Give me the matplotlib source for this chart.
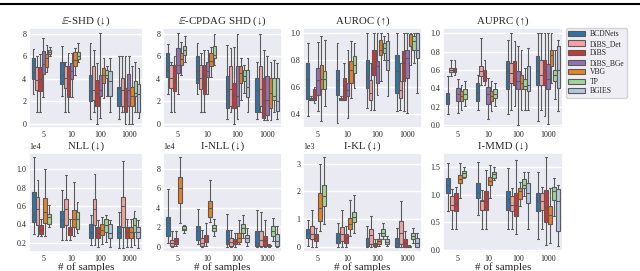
import matplotlib
matplotlib.use("Agg")
import matplotlib.pyplot as plt
import seaborn as sns
from matplotlib.patches import Patch
from matplotlib.lines import Line2D

sns.set_theme(style="darkgrid")
plt.rcParams["font.family"] = ["Liberation Serif", "DejaVu Serif"]
plt.rcParams["mathtext.fontset"] = "stix"

SAMPLES = ["5", "10", "100", "1000"]
METHODS = ["BCDNets", "DiBS_Det", "DiBS", "DiBS_BGe", "VBG", "TP", "BGIES"]
BASE_COLORS = ["#1f77b4", "#ff9896", "#d62728", "#9467bd", "#ff7f0e", "#98df8a", "#aec7e8"]

# each entry: (whisker low, q1, median, q3, whisker high) per sample size
ESHD = {
    "BCDNets": [(2.6, 4.0, 4.55, 5.8, 6.6), (2.45, 3.5, 4.35, 5.5, 6.9), (0.45, 2.0, 3.0, 4.35, 7.2), (0.4, 1.55, 3.2, 3.3, 6.0)],
    "DiBS_Det": [(1.0, 3.0, 3.9, 5.05, 6.0), (1.0, 3.2, 4.05, 5.1, 5.5), (1.0, 2.15, 3.0, 5.1, 6.55), (1.0, 1.55, 3.0, 4.1, 6.0)],
    "DiBS": [(1.0, 2.9, 4.0, 5.0, 6.2), (1.0, 2.35, 3.5, 5.1, 6.3), (0.0, 1.6, 2.75, 3.9, 5.4), (0.0, 1.0, 2.15, 3.2, 6.0)],
    "DiBS_BGe": [(2.35, 4.4, 5.3, 6.5, 7.6), (2.4, 4.0, 4.65, 5.4, 6.3), (0.5, 2.45, 3.0, 4.35, 8.1), (0.0, 1.55, 3.0, 4.45, 6.0)],
    "VBG": [(4.6, 5.0, 5.8, 6.2, 7.0), (4.35, 5.15, 5.7, 6.4, 6.7), (2.3, 3.6, 4.35, 4.95, 5.8), (0.0, 1.55, 2.45, 3.3, 5.1)],
    "TP": [(6.0, 6.2, 6.35, 6.55, 6.8), (5.5, 5.75, 6.05, 6.4, 7.2), (2.45, 4.05, 4.35, 4.8, 5.1), (1.0, 2.45, 2.75, 3.75, 5.5)],
    "BGIES": [None, None, (1.0, 2.45, 3.75, 4.65, 5.8), (0.5, 1.0, 2.6, 3.5, 4.95)],
}
ECPDAG = {
    "BCDNets": [(2.6, 4.15, 4.8, 6.25, 7.05), (2.6, 3.6, 4.65, 6.0, 7.2), (0.45, 1.4, 2.9, 4.25, 7.0), (0.45, 1.0, 3.0, 4.05, 5.5)],
    "DiBS_Det": [(1.0, 3.2, 4.05, 5.25, 5.5), (1.0, 3.1, 4.05, 5.25, 6.25), (1.0, 1.55, 3.1, 5.1, 6.75), (1.0, 1.55, 3.1, 5.1, 8.0)],
    "DiBS": [(1.0, 2.9, 3.8, 5.25, 6.0), (1.0, 2.6, 3.55, 5.25, 6.55), (0.0, 1.4, 2.6, 3.6, 6.85), (0.3, 0.5, 2.15, 4.05, 6.55)],
    "DiBS_BGe": [(2.6, 4.5, 5.25, 6.75, 8.1), (2.6, 4.15, 4.65, 5.5, 6.55), (0.45, 1.55, 2.45, 5.1, 8.0), (0.3, 0.8, 2.15, 4.25, 6.0)],
    "VBG": [(4.35, 5.25, 5.75, 6.3, 7.3), (4.15, 5.1, 5.6, 6.25, 6.85), (2.15, 3.6, 4.5, 5.1, 5.8), (0.3, 1.4, 2.75, 4.05, 5.5)],
    "TP": [(5.5, 6.1, 6.55, 6.9, 7.75), (5.25, 5.8, 6.1, 6.9, 8.0), (2.75, 3.75, 4.25, 4.8, 5.25), (1.0, 2.15, 2.45, 4.05, 5.65)],
    "BGIES": [None, None, (1.0, 2.35, 3.25, 4.8, 5.8), (0.45, 1.1, 2.0, 4.05, 5.4)],
}
AUROC = {
    "BCDNets": [(0.388, 0.511, 0.662, 0.778, 0.926), (0.333, 0.543, 0.654, 0.728, 0.926), (0.444, 0.59, 0.674, 0.8, 1.0), (0.42, 0.556, 0.716, 0.84, 1.0)],
    "DiBS_Det": [(0.5, 0.505, 0.51, 0.515, 0.53), (0.5, 0.505, 0.51, 0.515, 0.53), (0.43, 0.506, 0.555, 0.654, 0.778), (0.43, 0.52, 0.58, 0.642, 0.778)],
    "DiBS": [(0.48, 0.506, 0.52, 0.585, 0.6), (0.506, 0.506, 0.575, 0.667, 0.778), (0.43, 0.69, 0.74, 0.877, 1.0), (0.42, 0.642, 0.778, 0.864, 1.0)],
    "DiBS_BGe": [(0.42, 0.543, 0.654, 0.74, 0.93), (0.37, 0.53, 0.58, 0.63, 0.877), (0.543, 0.63, 0.753, 0.79, 1.0), (0.407, 0.667, 0.815, 0.877, 1.0)],
    "VBG": [(0.345, 0.585, 0.66, 0.765, 0.975), (0.52, 0.63, 0.723, 0.79, 0.94), (0.642, 0.84, 0.872, 0.95, 1.0), (0.765, 0.9, 0.9, 0.99, 1.0)],
    "TP": [(0.457, 0.585, 0.662, 0.716, 0.95), (0.59, 0.703, 0.765, 0.832, 0.926), (0.8, 0.852, 0.889, 0.926, 0.975), (0.778, 0.877, 0.938, 0.975, 1.0)],
    "BGIES": [None, None, (0.53, 0.728, 0.8, 0.938, 1.0), (0.556, 0.815, 0.877, 1.0, 1.0)],
}
AUPRC = {
    "BCDNets": [(0.12, 0.227, 0.3, 0.35, 0.53), (0.17, 0.26, 0.35, 0.46, 0.55), (0.12, 0.39, 0.586, 0.694, 0.93), (0.047, 0.44, 0.586, 0.75, 1.0)],
    "DiBS_Det": [(0.53, 0.575, 0.6, 0.622, 0.71), (0.44, 0.53, 0.586, 0.64, 0.946), (0.17, 0.46, 0.57, 0.676, 1.0), (0.17, 0.44, 0.55, 0.71, 1.0)],
    "DiBS": [(0.55, 0.575, 0.6, 0.622, 0.71), (0.44, 0.478, 0.55, 0.6, 0.71), (0.21, 0.44, 0.586, 0.694, 0.91), (0.1, 0.44, 0.6, 0.71, 1.0)],
    "DiBS_BGe": [(0.137, 0.26, 0.335, 0.4, 0.5), (0.065, 0.227, 0.335, 0.42, 0.51), (0.0, 0.39, 0.478, 0.586, 0.856), (0.01, 0.39, 0.5, 0.66, 1.0)],
    "VBG": [(0.17, 0.26, 0.317, 0.37, 0.44), (0.155, 0.26, 0.317, 0.37, 0.48), (0.17, 0.39, 0.46, 0.55, 0.82), (0.46, 0.64, 0.766, 0.82, 1.0)],
    "TP": [(0.21, 0.28, 0.335, 0.39, 0.48), (0.21, 0.3, 0.34, 0.39, 0.46), (0.17, 0.39, 0.43, 0.5, 0.62), (0.28, 0.478, 0.55, 0.6, 0.82)],
    "BGIES": [None, None, (0.17, 0.37, 0.44, 0.64, 0.84), (0.155, 0.406, 0.6, 0.856, 0.93)],
}
NLL = {  # x 1e4
    "BCDNets": [(0.298, 0.425, 0.516, 0.753, 1.135), (0.225, 0.37, 0.45, 0.54, 0.778), (0.17, 0.255, 0.316, 0.4, 0.5), (0.145, 0.255, 0.316, 0.38, 0.535)],
    "DiBS_Det": [(0.27, 0.39, 0.571, 0.698, 0.887), (0.225, 0.39, 0.571, 0.68, 0.935), (0.17, 0.39, 0.571, 0.68, 0.953), (0.145, 0.37, 0.596, 0.698, 1.09)],
    "DiBS": [(0.27, 0.29, 0.342, 0.39, 0.46), (0.225, 0.28, 0.335, 0.37, 0.46), (0.153, 0.255, 0.305, 0.37, 0.444), (0.153, 0.255, 0.316, 0.37, 0.46)],
    "VBG": [(0.27, 0.415, 0.535, 0.69, 1.007), (0.27, 0.37, 0.462, 0.56, 0.862), (0.19, 0.28, 0.335, 0.4, 0.48), (0.153, 0.255, 0.316, 0.37, 0.46)],
    "TP": [(0.37, 0.407, 0.48, 0.516, 0.607), (0.3, 0.353, 0.462, 0.535, 0.644), (0.207, 0.316, 0.39, 0.46, 0.5), (0.17, 0.316, 0.39, 0.47, 0.545)],
    "BGIES": [None, None, (0.153, 0.255, 0.305, 0.407, 0.444), (0.145, 0.255, 0.316, 0.37, 0.444)],
}
INLL = {  # x 1e4
    "BCDNets": [(0.44, 1.18, 2.45, 3.06, 5.9), (0.27, 0.77, 1.61, 2.18, 3.9), (0.0, 0.27, 0.77, 1.78, 3.4), (0.0, 0.1, 0.44, 1.61, 3.8)],
    "DiBS_Det": [(0.0, 0.1, 0.44, 0.77, 1.6), (0.0, 0.1, 0.44, 0.94, 1.78), (0.0, 0.1, 0.5, 0.94, 1.78), (0.0, 0.1, 0.77, 1.61, 3.63)],
    "DiBS": [(0.1, 0.27, 0.67, 0.94, 1.6), (0.1, 0.5, 0.94, 1.28, 2.45), (0.0, 0.27, 0.6, 0.84, 1.45), (0.0, 0.1, 0.77, 1.11, 2.79)],
    "VBG": [(2.45, 4.47, 5.98, 7.16, 9.18), (2.52, 3.06, 3.97, 4.74, 6.82), (0.27, 0.54, 0.94, 1.45, 2.72), (0.0, 0.07, 0.13, 0.2, 0.27)],
    "TP": [(1.45, 1.71, 1.88, 2.12, 2.29), (1.18, 1.61, 1.95, 2.29, 2.86), (0.94, 1.45, 1.95, 2.35, 3.3), (0.6, 1.11, 1.61, 2.12, 2.96)],
    "BGIES": [None, None, (0.1, 0.5, 0.94, 1.28, 1.95), (0.0, 0.1, 0.6, 1.38, 2.12)],
}
IKL = {  # x 1e3
    "BCDNets": [(0.04, 0.33, 0.51, 0.63, 0.98), (0.0, 0.15, 0.37, 0.51, 0.87), (0.0, 0.04, 0.15, 0.33, 0.75), (0.0, 0.01, 0.15, 0.33, 0.69)],
    "DiBS_Det": [(0.0, 0.27, 0.45, 0.75, 1.34), (0.0, 0.21, 0.45, 0.71, 1.34), (0.0, 0.1, 0.42, 0.65, 1.1), (0.0, 0.1, 0.51, 0.93, 1.64)],
    "DiBS": [(0.0, 0.21, 0.33, 0.45, 0.69), (0.0, 0.15, 0.33, 0.45, 0.75), (0.0, 0.04, 0.1, 0.15, 0.27), (0.0, 0.01, 0.15, 0.27, 0.57)],
    "VBG": [(0.57, 0.93, 1.4, 1.93, 3.0), (0.39, 0.63, 0.84, 1.04, 1.7), (0.04, 0.1, 0.21, 0.27, 0.51), (0.0, 0.01, 0.02, 0.04, 0.06)],
    "TP": [(0.81, 1.48, 1.84, 2.23, 3.24), (0.51, 0.89, 1.08, 1.25, 1.87), (0.27, 0.39, 0.51, 0.63, 0.87), (0.15, 0.27, 0.39, 0.51, 0.69)],
    "BGIES": [None, None, (0.04, 0.1, 0.18, 0.27, 0.39), (0.0, 0.01, 0.15, 0.33, 0.51)],
}
IMMD = {
    "BCDNets": [(0.7, 1.03, 1.18, 1.3, 1.57), (0.64, 0.94, 1.03, 1.22, 1.6), (0.37, 0.73, 0.92, 1.06, 1.48), (0.2, 0.7, 0.88, 1.04, 1.42)],
    "DiBS_Det": [(0.38, 0.73, 0.82, 0.97, 1.1), (0.37, 0.73, 0.88, 0.91, 1.09), (0.37, 0.7, 0.82, 0.97, 1.12), (0.37, 0.72, 0.88, 1.03, 1.15)],
    "DiBS": [(0.38, 0.7, 0.85, 1.03, 1.15), (0.37, 0.73, 0.88, 1.06, 1.45), (0.28, 0.62, 0.82, 1.03, 1.63), (0.08, 0.5, 0.78, 1.08, 1.69)],
    "VBG": [(0.94, 1.21, 1.28, 1.36, 1.57), (0.94, 1.18, 1.26, 1.33, 1.54), (0.79, 0.92, 1.06, 1.12, 1.24), (0.13, 0.46, 0.64, 0.79, 1.12)],
    "TP": [(1.3, 1.33, 1.39, 1.43, 1.51), (1.27, 1.3, 1.37, 1.42, 1.51), (0.97, 1.12, 1.18, 1.28, 1.42), (0.62, 0.91, 1.07, 1.14, 1.3)],
    "BGIES": [None, None, (0.37, 0.85, 1.03, 1.21, 1.42), (0.06, 0.34, 0.88, 1.1, 1.18)],
}

PANELS = [
    (ESHD, r"$\mathbb{E}$-SHD (↓)", 1, (-0.38, 8.5)),
    (ECPDAG, r"$\mathbb{E}$-CPDAG SHD (↓)", 1, (-0.38, 8.5)),
    (AUROC, "AUROC (↑)", 1, (0.296, 1.037)),
    (AUPRC, "AUPRC (↑)", 1, (-0.03, 1.055)),
    (NLL, "NLL (↓)", 1e4, (0.098, 1.178)),
    (INLL, "I-NLL (↓)", 1e4, (-0.5, 9.6)),
    (IKL, "I-KL (↓)", 1e3, (-0.18, 3.38)),
    (IMMD, "I-MMD (↓)", 1, (-0.04, 1.76)),
]

COLORS = {m: sns.desaturate(c, 0.8) for m, c in zip(METHODS, BASE_COLORS)}
GRAY = "#5a5a5a"
LW = 0.8

W, H = 640, 271
fig = plt.figure(figsize=(W / 100, H / 100), dpi=100)

cols = [(29, 143), (163, 282), (303, 422), (443, 563)]
rows = [(28, 128), (153, 252)]

axes = []
for r, (top, bot) in enumerate(rows):
    for c, (l, rr) in enumerate(cols):
        ax = fig.add_axes([l / W, 1 - bot / H, (rr - l) / W, (bot - top) / H])
        axes.append(ax)

for k, (ax, (data, title, scale, ylim)) in enumerate(zip(axes, PANELS)):
    hues = [m for m in METHODS if m in data]
    n = len(hues)
    bw = 0.8 / n
    for i, m in enumerate(hues):
        for j, st in enumerate(data[m]):
            if st is None:
                continue
            lo, q1, med, q3, hi = [v * scale for v in st]
            stats = [dict(whislo=lo, q1=q1, med=med, q3=q3, whishi=hi, fliers=[])]
            pos = j - 0.4 + bw * (i + 0.5)
            ax.bxp(stats, positions=[pos], widths=[bw * 0.98], patch_artist=True,
                   showfliers=False, manage_ticks=False,
                   boxprops=dict(facecolor=COLORS[m], edgecolor=GRAY, linewidth=LW),
                   whiskerprops=dict(color=GRAY, linewidth=LW),
                   capprops=dict(color=GRAY, linewidth=LW),
                   medianprops=dict(color=GRAY, linewidth=LW))
    ax.set_xlim(-0.5, len(SAMPLES) - 0.5)
    ax.set_ylim(ylim[0] * scale, ylim[1] * scale)
    ax.set_xticks(range(len(SAMPLES)))
    ax.set_xticklabels(SAMPLES)
    ax.xaxis.grid(False)
    ax.tick_params(axis="both", labelsize=5.8, pad=2, length=0, colors="#262626")
    ax.set_title(title, fontsize=7.8, pad=3, color="#262626")
    if scale != 1:
        ax.ticklabel_format(axis="y", style="sci", scilimits=(0, 0))
        ax.yaxis.get_offset_text().set_fontsize(5.8)
    if k >= 4:
        ax.set_xlabel("# of samples", fontsize=8, labelpad=-0.5, color="#262626")

handles = [Patch(facecolor=COLORS[m], edgecolor=GRAY, linewidth=LW, label=m) for m in METHODS]
fig.legend(handles=handles, loc="upper left", bbox_to_anchor=(566 / W, 1 - 28 / H),
           fontsize=5.5, frameon=True, handlelength=2.2, handleheight=0.7,
           labelspacing=0.2, borderpad=0.3, handletextpad=0.6, borderaxespad=0)

fig.add_artist(Line2D([0, 1], [1 - 4 / H, 1 - 4 / H], transform=fig.transFigure, color="black", linewidth=1.5))

fig.savefig("out.png", dpi=100)
